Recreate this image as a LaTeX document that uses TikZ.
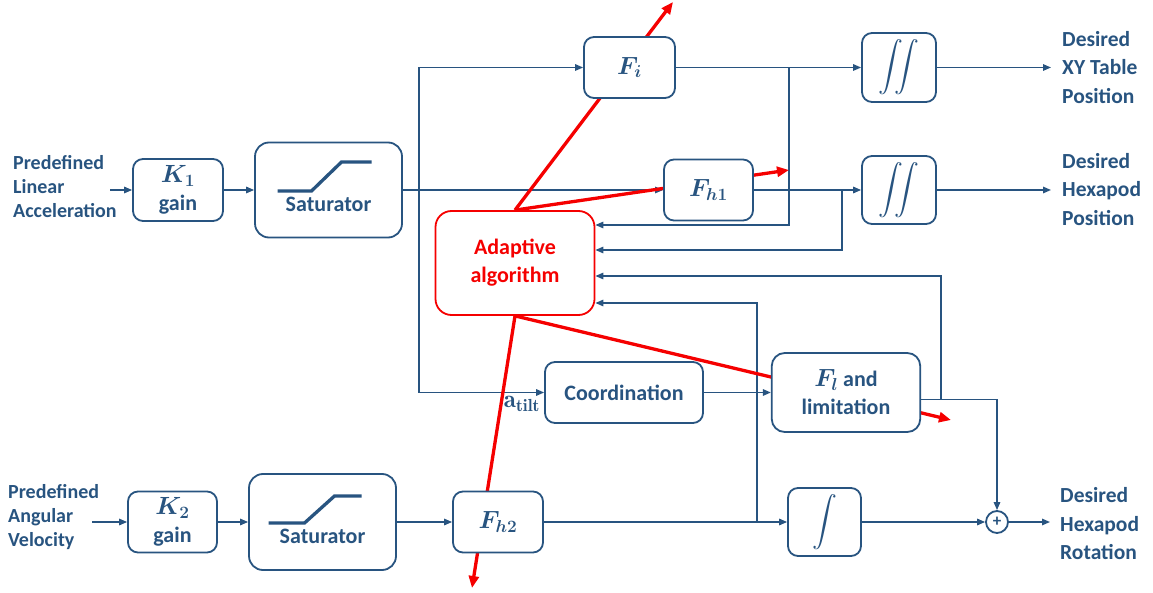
\documentclass[tikz,border=0pt]{standalone}
\usepackage{fontspec}
\usepackage{amsmath}
\setmainfont{Carlito}
\usetikzlibrary{arrows.meta,calc,backgrounds}
\definecolor{dblue}{RGB}{40,84,128}
\definecolor{rred}{RGB}{245,0,0}
\newcommand{\bmth}[1]{{\fontsize{25}{28}\selectfont\boldmath$#1$}}
\begin{document}
\begin{tikzpicture}[x=1pt,y=-1pt,
  blk/.style={draw=dblue, line width=1.8pt, rounded corners=10pt, fill=white, inner sep=0pt,
    align=center, text=dblue, font=\fontsize{22}{28}\selectfont\bfseries},
  lab/.style={text=dblue, inner sep=0pt, font=\fontsize{22}{28}\selectfont\bfseries},
  conn/.style={draw=dblue, line width=1.5pt, -{Triangle[length=8pt,width=6.5pt]}},
  redarr/.style={draw=rred, line width=3.3pt, -{Triangle[length=12pt,width=10pt]}},
  satcurve/.style={draw=dblue, line width=3.3pt}
]
\useasboundingbox (0,0) rectangle (1153,593);

% blocks
\node[blk, minimum width=90, minimum height=62] (K1) at (178,190) {\bmth{K_1}\\gain};
\node[blk, minimum width=147, minimum height=95, rounded corners=14pt] (sat1) at (328.5,190) {};
\node[lab] (sat1t) at (328.5,204) {Saturator};
\node[blk, minimum width=91, minimum height=61] (Fi) at (629.5,67.5) {\bmth{F_i}};
\node[blk, minimum width=89, minimum height=61] (Fh1) at (708.5,190) {\bmth{F_{h1}}};
\node[blk, minimum width=74, minimum height=69] (int1) at (899,67.5) {\fontsize{25}{25}\selectfont$\displaystyle\iint$};
\node[blk, minimum width=74, minimum height=68] (int2) at (899,190) {\fontsize{25}{25}\selectfont$\displaystyle\iint$};
\node[blk, draw=rred, text=rred, minimum width=159, minimum height=104, rounded corners=16pt] (adapt) at (515,263) {Adaptive\\algorithm};
\node[blk, minimum width=158, minimum height=61] (coord) at (624,392.5) {Coordination};
\node[blk, minimum width=148.5, minimum height=79, rounded corners=13pt] (Fl) at (846,392.5) {\bmth{F_l} and\\limitation};
\node[blk, minimum width=89, minimum height=61] (K2) at (172.5,522) {\bmth{K_2}\\gain};
\node[blk, minimum width=147, minimum height=96, rounded corners=14pt] (sat2) at (322.5,522) {};
\node[lab] (sat2t) at (322.5,536) {Saturator};
\node[blk, minimum width=90, minimum height=61] (Fh2) at (498,522) {\bmth{F_{h2}}};
\node[blk, minimum width=73, minimum height=68] (int3) at (824.5,522) {\fontsize{25}{25}\selectfont$\displaystyle\int$};
\node[circle, draw=dblue, line width=1.8pt, fill=white, minimum size=22, inner sep=0pt, text=dblue,
  font=\fontsize{17}{17}\selectfont\bfseries] (sum) at (997,522) {+};

% saturator curves
\draw[satcurve] ($(sat1)+(-51,1)$) -- ++(34,0) -- ++(30,-29) -- ++(30,0);
\draw[satcurve] ($(sat2)+(-54,1)$) -- ++(36,0) -- ++(30,-27) -- ++(27,0);

% labels
\node[lab, anchor=west, align=left, font=\fontsize{20}{24}\selectfont\bfseries] (inA) at (13,187) {Predefined\\Linear\\Acceleration};
\node[lab, anchor=west, align=left, font=\fontsize{20}{24}\selectfont\bfseries] (inB) at (8,517) {Predefined\\Angular\\Velocity};
\node[lab, anchor=west, align=left, font=\fontsize{21.5}{28.5}\selectfont\bfseries] (outA) at (1062,67.5) {Desired\\XY Table\\Position};
\node[lab, anchor=west, align=left, font=\fontsize{21.5}{28.5}\selectfont\bfseries] (outB) at (1062,189.5) {Desired\\Hexapod\\Position};
\node[lab, anchor=west, align=left, font=\fontsize{21.5}{28.5}\selectfont\bfseries] (outC) at (1060,524) {Desired\\Hexapod\\Rotation};
\node[lab, font=\fontsize{25}{28}\fontfamily{lmr}\selectfont\bfseries] (atilt) at (522,404) {a\textsubscript{tilt}};

% free ends and junctions
\coordinate (in1) at (110,190);
\coordinate (in2) at (92,522);
\coordinate (out1) at (1051,67.5);
\coordinate (out2) at (1051,190);
\coordinate (out3) at (1050,522);
\coordinate (j1) at (419,190);
\coordinate (j2) at (789,67.5);
\coordinate (j3) at (842,190);
\coordinate (j4) at (941,399.5);
\coordinate (j5) at (757,522);
\coordinate (r1) at (673,2);
\coordinate (r2) at (789,170);
\coordinate (r3) at (951,420);
\coordinate (r4) at (472,588);

\begin{scope}[on background layer]
  % blue connectors
  \draw[conn] (in1) -- (K1.west);
  \draw[conn] (K1.east) -- (sat1.west);
  \draw[conn] (sat1.east) -- (Fh1.west);
  \draw[conn] (j1) |- (Fi.west);
  \draw[conn] (j1) |- (coord.west);
  \draw[conn] (Fi.east) -- (int1.west);
  \draw[conn] (j2) |- ([yshift=38pt]adapt.east);
  \draw[conn] (Fh1.east) -- (int2.west);
  \draw[conn] (j3) |- ([yshift=13pt]adapt.east);
  \draw[conn] (int1.east) -- (out1);
  \draw[conn] (int2.east) -- (out2);
  \draw[conn] (coord.east) -- (Fl.west);
  \draw[conn] ([yshift=-7pt]Fl.east) -| (sum.north);
  \draw[conn] (j4) |- ([yshift=-13pt]adapt.east);
  \draw[conn] (in2) -- (K2.west);
  \draw[conn] (K2.east) -- (sat2.west);
  \draw[conn] (sat2.east) -- (Fh2.west);
  \draw[conn] (Fh2.east) -- (int3.west);
  \draw[conn] (int3.east) -- (sum.west);
  \draw[conn] (sum.east) -- (out3);
  \draw[conn] (j5) |- ([yshift=-40pt]adapt.east);
  % red adaptation arrows
  \draw[redarr] (adapt.north) -- (r1);
  \draw[redarr] (adapt.north) -- (r2);
  \draw[redarr] (adapt.south) -- (r3);
  \draw[redarr] (adapt.south) -- (r4);
\end{scope}
\end{tikzpicture}
\end{document}
